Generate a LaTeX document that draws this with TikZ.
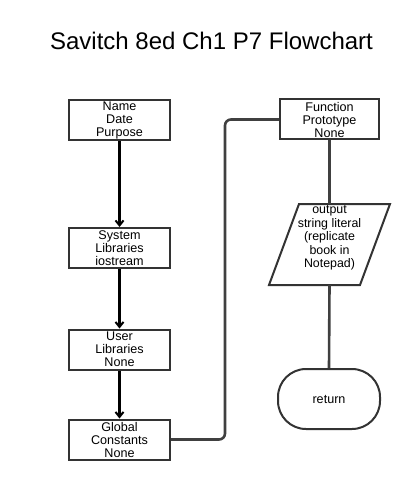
\documentclass[tikz,border=0pt]{standalone}
\usepackage{fontspec}
\setmainfont{Liberation Sans}
\usetikzlibrary{arrows.meta}
\begin{document}
\begin{tikzpicture}[x=1pt,y=-1pt,
  procbox/.style={draw=black!80, line width=2pt, fill=white, minimum width=101pt, minimum height=40pt, inner sep=0pt, align=center, font=\fontsize{12.6}{13}\selectfont},
  flowarrow/.style={line width=2.4pt, black, -{Straight Barb[length=5pt,width=8pt,line width=2pt]}},
  flowline/.style={line width=2.6pt, black!75},
  boxtext/.style={align=center, inner sep=0pt, font=\fontsize{12.4}{13.6}\selectfont}]
\useasboundingbox (0,0) rectangle (406,481);
\node[font=\fontsize{24}{28}\selectfont, anchor=base] (title) at (211.5,50) {Savitch 8ed Ch1 P7 Flowchart};
% left column
\node[procbox] (n1) at (119.5,120) {Name\\Date\\Purpose};
\node[procbox] (n2) at (119.5,248) {System\\Libraries\\iostream};
\node[procbox] (n3) at (119.5,349.5) {User\\Libraries\\None};
\node[procbox] (n4) at (119.5,439.5) {Global\\Constants\\None};
\draw[flowarrow] (n1) -- (n2);
\draw[flowarrow] (n2) -- (n3);
\draw[flowarrow] (n3) -- (n4);
% right column
\node[procbox, minimum width=99pt] (f) at (329.5,119.5) {Function\\Prototype\\None};
\coordinate (ptop) at (329.5,204);
\coordinate (pbot) at (329.5,285);
\coordinate (xmid) at (225,280);
\draw[draw=black!80, line width=2pt, fill=white, line join=miter] (299,204) -- (390,204) -- (360,285) -- (269,285) -- cycle;
\node[boxtext] (out) at (329.5,238) {output\\string literal\\(replicate\\book in\\Notepad)};
\node[draw=black!80, line width=2pt, rounded corners=28pt, minimum width=102pt, minimum height=60pt, inner sep=0pt, font=\fontsize{12.6}{13}\selectfont] (ret) at (329,399) {return};
\draw[flowline] (f.south) -- (ptop);
\draw[flowline] (pbot) -- (ret.north);
\draw[flowline, rounded corners=6pt] (n4.east) -| (xmid) |- (f.west);
\end{tikzpicture}
\end{document}
